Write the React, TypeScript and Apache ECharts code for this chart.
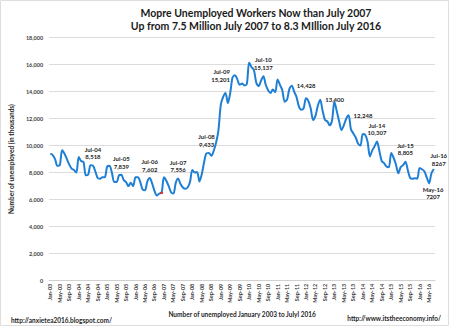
import React, { useEffect, useRef } from "react";
import * as echarts from "echarts";

const monthNames = ["Jan", "Feb", "Mar", "Apr", "May", "Jun", "Jul", "Aug", "Sep", "Oct", "Nov", "Dec"];
const years = ["03", "04", "05", "06", "07", "08", "09", "10", "11", "12", "13", "14", "15", "16"];

// Unemployed, thousands (not seasonally adjusted), Jan 2003 - Jul 2016
const v2003 = [9400, 9300, 9000, 8500, 8550, 9650, 9400, 9000, 8600, 8300, 8200, 8000];
const v2004 = [9150, 8850, 8800, 7800, 7850, 8550, 8518, 8100, 7600, 7550, 7650, 7650];
const v2005 = [8450, 8500, 8000, 7300, 7300, 7800, 7839, 7450, 7300, 7000, 7250, 7000];
const v2006 = [7650, 7650, 7300, 6750, 6700, 7350, 7602, 7200, 6650, 6300, 6450, 6500];
const v2007 = [7650, 7400, 7000, 6550, 6450, 7250, 7556, 7150, 6900, 6800, 6900, 7300];
const v2008 = [8200, 8000, 8050, 7350, 7900, 8800, 9433, 9450, 9250, 9600, 10200, 11100];
const v2009 = [13000, 13600, 13900, 13150, 13900, 15050, 15201, 14900, 14500, 14600, 14450, 14550];
const v2010 = [16147, 15800, 15600, 14650, 14400, 14800, 15137, 14500, 14100, 13900, 14150, 13950];
const v2011 = [14900, 14500, 14100, 13250, 13400, 14200, 14428, 14000, 13600, 12900, 12650, 12750];
const v2012 = [13500, 13300, 12750, 11900, 12200, 12950, 13400, 12600, 11900, 11800, 11500, 11850];
const v2013 = [13250, 12550, 11800, 11150, 11500, 12000, 12248, 11200, 10900, 10600, 10150, 10000];
const v2014 = [10850, 10800, 10300, 9200, 9650, 9950, 10307, 9600, 8850, 8700, 8450, 8400];
const v2015 = [9450, 9100, 8600, 7950, 8400, 8550, 8805, 8200, 7600, 7550, 7580, 7550];
const v2016 = [8350, 8250, 8100, 7650, 7207, 7950, 8267];

const values = [
  ...v2003, ...v2004, ...v2005, ...v2006, ...v2007, ...v2008, ...v2009,
  ...v2010, ...v2011, ...v2012, ...v2013, ...v2014, ...v2015, ...v2016,
];

const categories: string[] = [];
years.forEach((y) => monthNames.forEach((m) => categories.push(m + "-" + y)));
categories.length = values.length;

const yTicks = [0, 2000, 4000, 6000, 8000, 10000, 12000, 14000, 16000, 18000];

// annotations: category, text, placement
const annotations = [
  { cat: "Jul-04", text: "Jul-04\n8,518", pos: "top" },
  { cat: "Jul-05", text: "Jul-05\n7,839", pos: "top" },
  { cat: "Jul-06", text: "Jul-06\n7,602", pos: "top" },
  { cat: "Jul-07", text: "Jul-07\n7,556", pos: "top" },
  { cat: "Jul-08", text: "Jul-08\n9,433", pos: "top" },
  { cat: "Jul-09", text: "Jul-09\n15,201", pos: "left" },
  { cat: "Jul-10", text: "Jul-10\n15,137", pos: "top" },
  { cat: "Jul-11", text: "14,428", pos: "right" },
  { cat: "Jul-12", text: "13,400", pos: "right" },
  { cat: "Jul-13", text: "12,248", pos: "right" },
  { cat: "Jul-14", text: "Jul-14\n10,307", pos: "top" },
  { cat: "Jul-15", text: "Jul-15\n8,805", pos: "top" },
  { cat: "May-16", text: "May-16\n7207", pos: "bottom" },
  { cat: "Jul-16", text: "Jul-16\n8267", pos: "topRight" },
];
const redMarkCat = "Dec-06";

const FONT = "Lato, 'Noto Sans', sans-serif";

export default function App() {
  const ref = useRef<HTMLDivElement>(null);
  useEffect(() => {
    if (!ref.current) return;
    const chart = echarts.init(ref.current, null, { renderer: "svg" });

    const data = values.map((v, i) => {
      const cat = categories[i];
      const a = annotations.find((x) => x.cat === cat);
      const item: any = { value: v };
      if (a) {
        const lab: any = {
          show: true,
          formatter: a.text,
          fontSize: 6,
          fontWeight: "bold",
          fontFamily: FONT,
          color: "#262626",
          lineHeight: 7.5,
          distance: 5,
        };
        if (a.pos === "topRight") {
          lab.position = "top";
          lab.offset = [5, 0];
          lab.distance = 2;
        } else if (a.pos === "bottom") {
          lab.position = "bottom";
          lab.offset = [4, 0];
          lab.distance = 2;
        } else {
          lab.position = a.pos;
        }
        item.label = lab;
      }
      if (cat === redMarkCat) {
        item.symbol = "rect";
        item.symbolSize = [3, 2];
        item.itemStyle = { color: "#e03030" };
      }
      return item;
    });

    chart.setOption({
      animation: false,
      backgroundColor: "#ffffff",
      title: {
        text: "Mopre Unemployed Workers Now than July 2007\nUp from 7.5 Million July 2007 to 8.3 MIllion July 2016",
        left: 251,
        textAlign: "center",
        top: 1,
        textStyle: {
          fontFamily: FONT,
          fontSize: 10.5,
          fontWeight: "bold",
          color: "#1a1a1a",
          lineHeight: 13.5,
        },
      },
      grid: { left: 34, right: 15, top: 37.5, bottom: 46.3, containLabel: false },
      xAxis: {
        type: "category",
        data: categories,
        boundaryGap: true,
        name: "Number of unemployed January 2003 to Julyl 2016",
        nameLocation: "middle",
        nameGap: 27,
        nameTextStyle: { fontFamily: FONT, fontSize: 6.5, fontWeight: "bold", color: "#262626" },
        axisLine: { show: true, lineStyle: { color: "#d0d0d0", width: 1 } },
        axisTick: { show: false },
        axisLabel: {
          interval: 3,
          rotate: 90,
          fontSize: 5.5,
          fontWeight: "bold",
          fontFamily: FONT,
          color: "#404040",
          margin: 3,
        },
        splitLine: { show: false },
      },
      yAxis: {
        type: "value",
        min: 0,
        max: 18000,
        interval: 2000,
        name: "Number of unemployed (in thousands)",
        nameLocation: "middle",
        nameRotate: 90,
        nameGap: 26,
        nameTextStyle: { fontFamily: FONT, fontSize: 6.5, fontWeight: "bold", color: "#262626" },
        axisLine: { show: false },
        axisTick: { show: false },
        axisLabel: {
          fontSize: 5.5,
          fontWeight: "bold",
          fontFamily: FONT,
          color: "#404040",
          margin: 6,
          formatter: (v: number) => (yTicks.includes(v) ? v.toLocaleString("en-US") : ""),
        },
        splitLine: { show: true, lineStyle: { color: "#dcdcdc", width: 1 } },
      },
      series: [
        {
          type: "line",
          data,
          smooth: 0.3,
          showSymbol: true,
          symbol: "circle",
          symbolSize: 0,
          lineStyle: { color: "#1e7fd4", width: 2 },
          itemStyle: { color: "#1e7fd4" },
          label: { show: false },
          z: 3,
        },
      ],
      graphic: [
        {
          type: "rect",
          shape: { x: 0.5, y: 0.5, width: 448, height: 325 },
          style: { fill: "none", stroke: "#dedede", lineWidth: 1 },
          silent: true,
          z: -1,
        },
        {
          type: "text",
          left: 11,
          top: 317,
          style: {
            text: "http://anxietea2016.blogspot.com/",
            fontSize: 6.5,
            fontWeight: "bold",
            fontFamily: FONT,
            fill: "#262626",
          },
        },
        {
          type: "text",
          right: 9,
          top: 315,
          style: {
            text: "http://www.itstheeconomy.info/",
            fontSize: 6.5,
            fontWeight: "bold",
            fontFamily: FONT,
            fill: "#262626",
          },
        },
      ],
    });
    return () => chart.dispose();
  }, []);
  return (
    <div
      ref={ref}
      style={{ position: "fixed", left: 0, top: 0, width: 450, height: 327 }}
    />
  );
}
